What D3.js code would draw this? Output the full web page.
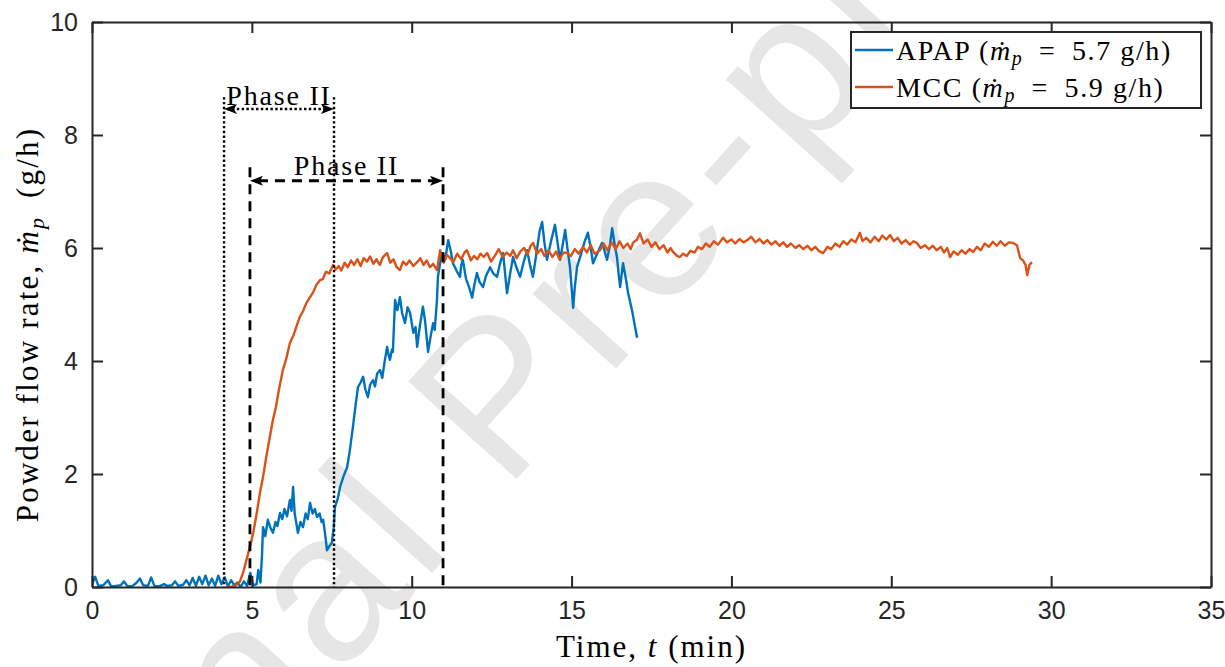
<!DOCTYPE html>
<html><head><meta charset="utf-8">
<script src="https://cdn.jsdelivr.net/npm/d3@7/dist/d3.min.js"></script>
<style>body{margin:0;background:#fff}</style></head>
<body>
<svg id="c" width="1225" height="667"></svg>
<script>
// ---- data ----
const apapT = [0.00,0.10,0.20,0.35,0.50,0.60,0.75,0.90,1.00,1.10,1.25,1.40,1.50,1.60,1.75,1.85,1.95,2.10,2.25,2.35,2.50,2.60,2.70,2.85,2.95,3.05,3.15,3.25,3.35,3.45,3.55,3.65,3.75,3.85,3.95,4.05,4.15,4.25,4.35,4.45,4.55,4.65,4.75,4.85,4.95,5.05,5.15,5.20,5.27,5.32,
5.35,5.42,5.50,5.58,5.66,5.74,5.80,5.88,5.95,6.02,6.10,6.19,6.24,6.29,6.34,6.40,6.44,6.52,6.60,6.68,6.75,6.82,6.90,6.97,7.04,7.12,7.18,7.23,7.30,7.35,7.42,7.50,7.56,7.60,7.68,7.76,7.86,7.98,8.06,8.16,8.24,8.32,8.40,8.48,8.55,8.63,8.70,8.79,8.85,8.92,9.01,9.08,9.15,9.23,9.28,9.32,9.38,9.41,9.45,9.48,9.55,9.63,9.70,9.79,9.87,9.95,10.05,10.12,10.17,10.25,10.35,10.42,10.51,10.58,10.67,10.72,10.79,10.82,10.88,10.95,11.05,11.14,11.22,11.29,11.40,11.51,11.55,11.60,11.70,11.80,11.89,11.96,12.04,12.12,12.23,12.32,12.45,12.55,12.67,12.75,12.86,12.92,12.98,13.08,13.17,13.28,13.39,13.50,13.61,13.70,13.79,13.90,14.00,14.08,14.15,14.23,14.35,14.48,14.56,14.64,14.72,14.80,14.88,14.95,15.05,15.10,15.17,15.30,15.40,15.51,15.60,15.67,15.80,15.95,16.03,16.11,16.20,16.27,16.35,16.42,16.48,16.52,16.58,16.61,16.70,16.77,16.83,16.89,16.97,17.05];
const apapV = [0.05,0.18,0.02,0.03,0.12,0.01,0.02,0.03,0.10,0.02,0.01,0.08,0.15,0.03,0.02,0.17,0.02,0.01,0.05,0.02,0.03,0.10,0.02,0.04,0.12,0.03,0.16,0.02,0.18,0.05,0.20,0.03,0.15,0.02,0.20,0.05,0.17,0.01,0.12,0.03,0.08,0.00,0.10,0.02,0.25,0.03,0.05,0.30,0.08,0.60,
1.06,0.90,1.19,1.05,0.96,1.15,1.08,1.31,1.20,1.38,1.25,1.54,1.35,1.77,1.30,1.10,0.96,1.15,1.06,1.30,1.20,1.49,1.30,1.38,1.24,1.30,1.15,1.19,0.90,0.65,0.72,0.78,1.05,1.42,1.55,1.77,1.95,2.12,2.40,2.83,3.20,3.54,3.62,3.72,3.50,3.36,3.58,3.66,3.55,3.78,3.84,3.70,3.98,4.25,4.10,4.02,4.20,4.16,4.70,5.08,4.90,5.13,4.85,4.67,4.95,4.85,4.50,4.60,4.25,4.60,4.96,4.70,4.16,4.40,4.67,4.55,5.08,5.49,5.70,5.91,5.80,6.14,5.95,5.73,5.60,5.49,5.70,5.79,5.45,5.30,5.12,5.35,5.56,5.40,5.31,5.50,5.66,5.55,5.49,5.70,5.91,5.55,5.20,5.55,5.84,5.65,5.49,5.75,5.96,5.70,5.49,5.90,6.30,6.46,6.10,5.79,6.10,6.41,6.10,5.79,6.05,6.32,5.95,5.66,4.94,5.30,5.66,5.90,6.10,6.27,6.00,5.73,5.90,6.09,5.95,5.79,6.05,6.35,6.05,5.84,5.50,5.31,5.60,5.73,5.45,5.20,5.05,4.90,4.65,4.41];

const mccT = [4.20,4.35,4.50,4.63,4.75,4.85,4.94,5.05,5.15,5.25,5.35,5.45,5.55,5.66,5.75,5.85,5.97,6.08,6.19,6.30,6.40,6.50,6.60,6.70,6.82,6.92,7.02,7.13,7.22,7.32,7.42,7.54,7.62,7.72,7.80,7.90,8.00,8.10,8.20,8.30,8.40,8.50,8.60,8.70,8.80,8.90,9.00,9.10,9.23,9.33,9.43,9.53,9.63,9.73,9.83,9.93,10.05,10.17,10.27,10.37,10.47,10.57,10.67,10.79,10.89,11.00,11.10,11.20,11.30,11.42,11.55,11.65,11.73,11.85,11.95,12.05,12.15,12.25,12.36,12.48,12.60,12.72,12.85,12.97,13.08,13.17,13.28,13.40,13.52,13.62,13.72,13.80,13.92,14.05,14.15,14.28,14.40,14.52,14.62,14.75,14.86,14.98,15.10,15.22,15.36,15.48,15.60,15.72,15.89,16.00,16.12,16.25,16.38,16.50,16.62,16.75,16.85,16.92,17.05,17.14,17.25,17.38,17.50,17.62,17.75,17.88,18.00,18.10,18.17,18.30,18.39,18.49,18.60,18.72,18.85,18.95,19.08,19.20,19.32,19.45,19.58,19.74,19.86,20.00,20.12,20.25,20.38,20.50,20.62,20.75,20.88,21.00,21.12,21.25,21.38,21.50,21.62,21.74,21.86,22.00,22.12,22.25,22.38,22.50,22.62,22.75,22.87,23.00,23.12,23.25,23.38,23.50,23.62,23.75,23.88,24.02,24.10,24.22,24.35,24.48,24.60,24.72,24.85,24.96,25.08,25.20,25.32,25.45,25.58,25.70,25.80,25.92,26.05,26.18,26.30,26.42,26.55,26.65,26.75,26.84,26.95,27.08,27.20,27.32,27.45,27.56,27.68,27.80,27.92,28.05,28.18,28.30,28.42,28.55,28.68,28.81,28.93,29.03,29.12,29.20,29.25,29.32,29.40];
const mccV = [0.00,0.00,0.03,0.10,0.30,0.52,0.71,0.98,1.30,1.66,1.95,2.30,2.62,2.96,3.18,3.50,3.84,4.05,4.32,4.45,4.62,4.78,4.88,5.02,5.13,5.22,5.35,5.43,5.45,5.58,5.55,5.70,5.62,5.68,5.60,5.74,5.66,5.78,5.70,5.80,5.68,5.82,5.76,5.85,5.72,5.80,5.70,5.84,5.91,5.74,5.80,5.66,5.61,5.76,5.70,5.78,5.68,5.75,5.82,5.70,5.78,5.66,5.72,5.61,5.96,5.74,5.88,5.82,5.75,5.90,5.80,5.92,5.96,5.78,5.86,5.80,5.90,5.84,5.91,5.76,5.86,5.98,5.84,5.92,5.86,5.96,5.82,5.94,6.00,5.88,6.04,6.09,5.90,5.98,5.86,5.96,5.84,5.94,5.80,5.92,5.91,5.86,5.98,5.90,6.02,5.92,6.05,5.90,5.96,6.08,5.96,6.10,5.98,6.12,6.00,6.08,5.98,6.09,6.15,6.26,6.08,6.15,6.02,6.10,5.98,6.05,5.92,6.00,5.93,5.86,5.84,5.90,5.86,5.95,5.92,6.02,5.98,6.08,6.02,6.12,6.06,6.18,6.10,6.15,6.08,6.16,6.10,6.14,6.20,6.10,6.16,6.08,6.14,6.06,6.12,6.04,6.10,6.02,6.08,6.00,6.05,5.98,6.04,5.96,6.02,5.94,5.91,6.02,5.98,6.08,6.02,6.12,6.06,6.15,6.10,6.27,6.12,6.18,6.10,6.20,6.12,6.22,6.15,6.23,6.12,6.18,6.08,6.14,6.06,6.12,6.09,6.00,6.05,5.98,6.04,5.96,6.02,5.92,6.00,5.84,5.94,5.88,5.96,5.90,5.98,5.93,6.02,5.96,6.08,6.02,6.11,6.04,6.12,6.04,6.10,6.09,6.05,5.82,5.78,5.70,5.52,5.70,5.75];

const seriesNames = ["APAP", "MCC"];
const seriesRates = ["5.7", "5.9"];
const xTicks = [0,5,10,15,20,25,30,35];
const yTicks = [0,2,4,6,8,10];
const phaseDotted = [4.13, 7.57];   // min
const phaseDashed = [4.94, 10.98];  // min
const phaseDottedTop = 8.67, phaseDottedArrow = 8.46;
const phaseDashedTop = 7.43, phaseDashedArrow = 7.19;

// ---- layout ----
const svg = d3.select("#c");
const L = 92, T = 22, W = 1119, H = 565;
const x = d3.scaleLinear().domain([0,35]).range([L, L+W]);
const y = d3.scaleLinear().domain([0,10]).range([T+H, T]);
const colors = ["#0072BD", "#D95319"];
const axisCol = "#262626";
const serif = "'Liberation Serif','DejaVu Serif',serif";

// watermark
const wm = svg.append("g").attr("transform", "translate(505,492) rotate(-48)")
  .attr("font-family", "Arial, 'Liberation Sans', sans-serif")
  .attr("font-size", 212).attr("letter-spacing", 10).attr("fill", "#e6e6e6");
wm.append("text").text("Pre-proof");
wm.append("text").attr("x", -66).attr("text-anchor", "end").text("Journal");

const clip = svg.append("clipPath").attr("id","clp").append("rect")
  .attr("x", L).attr("y", T).attr("width", W).attr("height", H);

// series
const line = d3.line().x(d => x(d[0])).y(d => y(d[1]));
const apap = apapT.map((t,i) => [t, apapV[i]]);
const mcc = mccT.map((t,i) => [t, mccV[i]]);
const g = svg.append("g").attr("clip-path","url(#clp)");
[apap, mcc].forEach((d,i) => {
  g.append("path").datum(d).attr("d", line)
    .attr("fill","none").attr("stroke", colors[i]).attr("stroke-width", 2.4)
    .attr("stroke-linejoin","round");
});

// phase markers
function phase(bounds, top, arrowY, dash, width){
  const gp = svg.append("g");
  bounds.forEach(b => {
    gp.append("line").attr("x1", x(b)).attr("x2", x(b))
      .attr("y1", y(top)).attr("y2", y(0))
      .attr("stroke","#000").attr("stroke-width", width).attr("stroke-dasharray", dash);
  });
  const x0 = x(bounds[0]), x1 = x(bounds[1]), ya = y(arrowY);
  gp.append("line").attr("x1", x0+8).attr("x2", x1-8).attr("y1", ya).attr("y2", ya)
    .attr("stroke","#000").attr("stroke-width", width).attr("stroke-dasharray", dash);
  gp.append("path").attr("d", `M${x0},${ya} L${x0+13},${ya-5} L${x0+10},${ya} L${x0+13},${ya+5} Z`).attr("fill","#000");
  gp.append("path").attr("d", `M${x1},${ya} L${x1-13},${ya-5} L${x1-10},${ya} L${x1-13},${ya+5} Z`).attr("fill","#000");
  gp.append("text").attr("x", (x0+x1)/2).attr("y", y(top)+8)
    .attr("text-anchor","middle").attr("font-family", serif).attr("font-size", 28)
    .attr("letter-spacing", 1.8).attr("fill","#000").text("Phase II");
}
phase(phaseDotted, phaseDottedTop, phaseDottedArrow, "2.4,2.4", 2.4);
phase(phaseDashed, phaseDashedTop, phaseDashedArrow, "10,7", 2.8);

// axes
const tickLen = 11;
const ax = svg.append("g");
ax.append("g").attr("transform", `translate(0,${T+H})`)
  .call(d3.axisBottom(x).tickValues(xTicks).tickSizeInner(-tickLen).tickSizeOuter(0).tickPadding(14));
ax.append("g").attr("transform", `translate(0,${T})`)
  .call(d3.axisTop(x).tickValues(xTicks).tickSizeInner(-tickLen).tickSizeOuter(0).tickFormat(""));
ax.append("g").attr("transform", `translate(${L},0)`)
  .call(d3.axisLeft(y).tickValues(yTicks).tickSizeInner(-tickLen).tickSizeOuter(0).tickPadding(14));
ax.append("g").attr("transform", `translate(${L+W},0)`)
  .call(d3.axisRight(y).tickValues(yTicks).tickSizeInner(-tickLen).tickSizeOuter(0).tickFormat(""));
ax.selectAll(".domain").attr("stroke", axisCol).attr("stroke-width", 2);
ax.selectAll(".tick line").attr("stroke", axisCol).attr("stroke-width", 2);
ax.selectAll(".tick text").attr("fill", axisCol)
  .attr("font-family", "Arial, 'Liberation Sans', sans-serif").attr("font-size", 25);

// axis labels
const xl = svg.append("text").attr("x", x(17.5)).attr("y", 657)
  .attr("text-anchor","middle").attr("font-family", serif).attr("font-size", 31)
  .attr("letter-spacing", 2).attr("fill","#000");
xl.append("tspan").text("Time, ");
xl.append("tspan").attr("font-style","italic").text("t");
xl.append("tspan").text(" (min)");

const yl = svg.append("text").attr("transform", `translate(38,${T+H/2+20}) rotate(-90)`)
  .attr("text-anchor","middle").attr("font-family", serif).attr("font-size", 31)
  .attr("letter-spacing", 2.2).attr("fill","#000");
yl.append("tspan").text("Powder flow rate, ");
yl.append("tspan").attr("font-style","italic").text("\u1E41");
yl.append("tspan").attr("font-style","italic").attr("font-size", 22).attr("dy", 6).text("p");
yl.append("tspan").attr("dy", -6).text("\u2002(g/h)");

// legend
const lg = svg.append("g");
lg.append("rect").attr("x", 851).attr("y", 32).attr("width", 350).attr("height", 76)
  .attr("fill","#fff").attr("stroke", axisCol).attr("stroke-width", 2);
seriesNames.forEach((n,i) => {
  const yy = 50 + i*37;
  lg.append("line").attr("x1", 855).attr("x2", 893).attr("y1", yy).attr("y2", yy)
    .attr("stroke", colors[i]).attr("stroke-width", 2.4);
  const t = lg.append("text").attr("x", 896).attr("y", yy+10)
    .attr("font-family", serif).attr("font-size", 28).attr("letter-spacing", 1.6).attr("fill","#000");
  t.append("tspan").text(n + " (");
  t.append("tspan").attr("font-style","italic").text("\u1E41");
  t.append("tspan").attr("font-style","italic").attr("font-size", 20).attr("dy", 5).text("p");
  t.append("tspan").attr("dy", -5).text("\u2002=\u2002" + seriesRates[i] + " g/h)");
});
</script>
</body></html>
